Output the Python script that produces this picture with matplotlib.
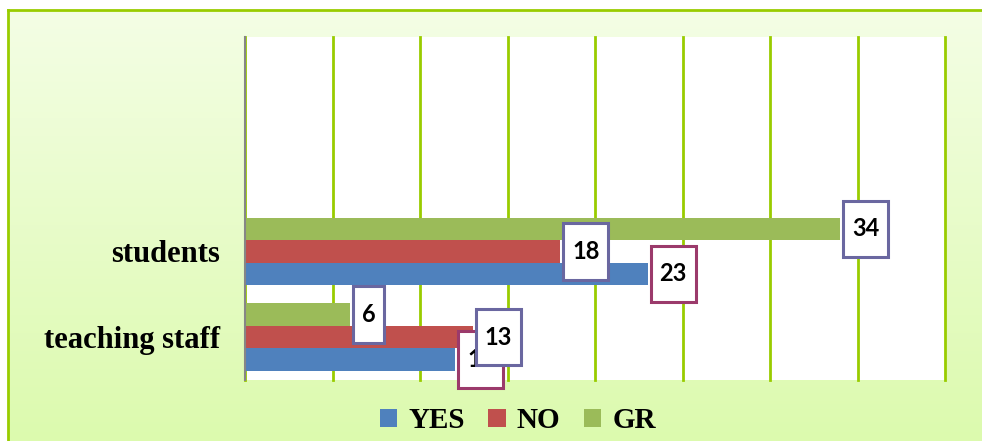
"""Horizontal bar chart of YES / NO / GR answers for students and teaching staff."""

import numpy as np
import matplotlib
matplotlib.use("Agg")
import matplotlib.pyplot as plt
from matplotlib.colors import LinearSegmentedColormap
from matplotlib.lines import Line2D
from matplotlib.path import Path

categories = ["teaching staff", "students"]
series_names = ["YES", "NO", "GR"]
yes_values = [12, 23]
no_values = [13, 18]
gr_values = [6, 34]

W, H = 982, 441


def label_box(x0, y0, width, height, mutation_size):
    # tall white box around the data label, like the office-style callouts
    pad_x = 0.37 * mutation_size
    box_h = 2.4 * mutation_size
    cy = y0 + height / 2
    left, right = x0 - pad_x, x0 + width + pad_x
    bottom, top = cy - box_h / 2, cy + box_h / 2
    return Path([(left, bottom), (right, bottom), (right, top), (left, top), (left, bottom)], closed=True)


fig = plt.figure(figsize=(W / 100, H / 100), dpi=100)
fig.patch.set_facecolor("white")

# chart area: soft vertical gradient with a green frame on the left and top
bg = fig.add_axes([8 / W, 0, 1 - 8 / W, 1 - 10 / H])
grad_cmap = LinearSegmentedColormap.from_list("area", ["#DCFAAE", "#F4FEE5"])
bg.imshow(np.linspace(0, 1, 256).reshape(-1, 1)[::-1], cmap=grad_cmap, aspect="auto", extent=[0, 1, 0, 1])
bg.axis("off")
bg.set_zorder(0)
fig.add_artist(Line2D([8 / W, 8 / W], [0, 1 - 10 / H], color="#99CC00", lw=2))
fig.add_artist(Line2D([8 / W, 1], [1 - 10 / H, 1 - 10 / H], color="#99CC00", lw=2))

ax = fig.add_axes([245 / W, 1 - 380 / H, 700 / W, 343 / H])
ax.set_zorder(1)
ax.set_facecolor("white")

colors = {"YES": "#4F81BD", "NO": "#C0504D", "GR": "#9BBB59"}
label_edges = {"YES": "#9B3A6B", "NO": "#6A67A0", "GR": "#6A67A0"}
bar_h = 0.262
offsets = {"YES": -bar_h, "NO": 0.0, "GR": bar_h}
series = {"YES": yes_values, "NO": no_values, "GR": gr_values}

y = np.arange(len(categories))
handles = []
for name in series_names:
    bars = ax.barh(y + offsets[name], series[name], height=bar_h, color=colors[name], zorder=2)
    handles.append(bars)

for name in series_names:
    for yi, val in zip(y, series[name]):
        ax.annotate(str(val), xy=(val, yi + offsets[name]), xytext=(12, 0), textcoords="offset pixels",
                    ha="left", va="center", fontsize=17, fontweight="bold", family="Lato", color="black",
                    bbox=dict(boxstyle=label_box, fc="white", ec=label_edges[name], lw=2.2), zorder=4)

ax.set_xlim(0, 40)
ax.set_ylim(-0.5, 3.5)
ax.set_xticks(range(0, 41, 5))
ax.set_xticklabels([])
ax.tick_params(axis="x", length=0)
ax.xaxis.grid(True, color="#99CC00", lw=2)
ax.set_axisbelow(True)
for gl in ax.get_xgridlines():
    gl.set_clip_on(False)

ax.set_yticks(y)
ax.set_yticklabels(categories, fontsize=22, fontweight="bold", family="Liberation Serif")
ax.tick_params(axis="y", length=0, pad=18)

for side in ["top", "right", "bottom"]:
    ax.spines[side].set_visible(False)
ax.spines["left"].set_color("#868686")
ax.spines["left"].set_linewidth(1.5)
ax.spines["left"].set_zorder(3)

fig.legend(handles, series_names, loc="center", bbox_to_anchor=(518 / W, 1 - 421 / H), ncol=3,
           frameon=False, prop={"family": "Liberation Serif", "weight": "bold", "size": 21},
           handlelength=0.6, handleheight=0.6, handletextpad=0.38, columnspacing=0.8)

fig.savefig("out.png", dpi=100, facecolor=fig.get_facecolor())
plt.close(fig)
